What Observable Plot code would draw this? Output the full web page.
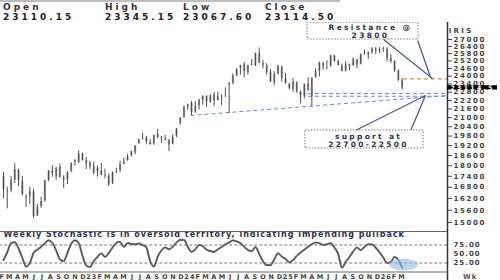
<!DOCTYPE html>
<html><head><meta charset="utf-8">
<script src="https://cdn.jsdelivr.net/npm/d3@7"></script>
<script src="https://cdn.jsdelivr.net/npm/@observablehq/plot@0.6"></script>
<style>
body{margin:0;background:#fff;width:500px;height:280px;overflow:hidden;position:relative;font-family:"DejaVu Sans",sans-serif}
#hdr{position:absolute;left:0;top:0;width:340px;height:21px;border-top:2px solid #bdbdbd}
.h{position:absolute;font-weight:bold;font-size:9px;letter-spacing:3px;color:#333;white-space:nowrap}
#main{position:absolute;left:0;top:22px}
#stoch{position:absolute;left:0;top:231px}
#sepTop{position:absolute;left:0;top:231px;width:447px;height:0;border-top:1px solid #666}
#main g[aria-label="y-axis tick label"] text{letter-spacing:1.6px}
#main g[aria-label="text"] text{letter-spacing:2.3px}
#stoch text{letter-spacing:1px}
</style></head><body>
<div id="hdr"></div>
<div id="main"></div>
<div id="stoch"></div>
<div id="sepTop"></div>
<script>
// ---------- header ----------
const ohlcLabels = ["Open", "High", "Low", "Close"];
const ohlcValues = ["23110.15", "23345.15", "23067.60", "23114.50"];
// ---------- bi-weekly bars (start 2022-02-14, every 2 weeks) ----------
const firstBar = "2022-02-14";
const opens = [17374,16600,16630,17200,17700,17100,16300,16300,16550,15300,15800,16100,17200,17700,17400,17900,17200,17200,17700,18200,18200,18700,18300,
 18130,17950,17650,17700,17450,17400,17000,17600,17700,18100,18300,18600,18800,19300,19600,19700,19400,19300,19900,19700,19600,19500,19300,19800,20600,21000,
 21727,22000,21400,21800,22200,22500,22100,22578,22200,22500,22500,23338,23500,24000,24600,24900,24300,24900,24800,25800,25000,24800,24300,23500,24150,24700,23800,
 23400,23000,23500,22800,22500,23400,22500,23900,24400,25000,24700,24800,25600,25150,24800,24400,24900,24800,25300,24900,25800,25700,25900,26200,26050,26150,
 26200,25400,25150,24400,23700];
const highs = [17640,16800,17400,18114,17800,17400,16400,16794,16700,15900,16275,17172,17724,17992,17925,18096,17428,17665,18176,18362,18888,18750,18500,
 18265,18201,17972,18135,17800,17529,17638,17863,18267,18458,18662,18864,19201,19595,19991,19795,19584,19867,20222,19766,19850,19593,19875,20291,21006,21801,
 21928,22124,22126,22297,22526,22526,22619,22776,22794,22600,23110,23490,24174,24592,24855,25078,24867,25333,25849,26277,25234,24978,24537,24354,24857,24781,24226,
 23426,23807,23568,22900,23402,23869,23872,24589,25116,25079,25222,25654,25669,25250,24956,25153,24950,25448,25331,25781,26104,25940,26310,26325,26300,26350,
 26300,25700,25200,24500,23800];
const lows = [16203,15671,16500,17000,16824,16340,15735,15900,15183,15300,15700,16000,17100,17345,17166,17292,16747,16950,17600,17970,18133,18300,17774,
 17774,17493,17353,17421,17256,16828,16940,17553,17612,18060,18262,18500,18647,19300,19563,19296,19229,19223,19657,19333,19480,18837,19257,19700,20500,20977,
 21500,21137,21300,21530,21860,21710,22000,21777,22150,21821,22417,21281,23350,23992,24074,23894,24100,24800,24753,24966,24567,24073,23532,23263,24100,23537,23400,
 22976,22787,22725,21964,22314,22857,21743,23847,23935,24462,24473,24700,25100,24806,24338,24337,24404,24770,24588,24900,25700,25318,25740,25728,25800,25900,
 25100,25000,24300,23600,22950];
const closes = [16658,16630,17153,17784,17172,16411,16266,16584,15293,15752,16049,17158,17698,17559,17833,17327,17315,17576,18117,18307,18696,18269,18105,
 17956,17604,17856,17465,17413,16945,17599,17624,18069,18203,18534,18826,19189,19564,19646,19428,19265,19819,19674,19653,19542,19230,19732,20268,20969,21731,
 21894,21352,21783,22213,22493,22097,22514,22147,22476,22466,22531,23465,24011,24502,24835,24367,24823,24852,25791,25014,24854,24304,23532,24131,24768,23813,23432,
 23092,23560,22796,22552,23350,22904,23851,24346,25019,24750,24718,25637,25149,24837,24363,24870,24741,25327,24894,25710,25722,25910,26203,26047,26150,26200,
 25400,25150,24400,23700,23114.5];
// weekly stochastic (one reading per bar)
const stochValues = [33,55,80,83,65,40,15,25,53,62,70,80,88,80,60,35,30,53,78,88,80,45,18,14,30,42,52,42,53,68,81,84,70,80,78,77,79,75,68,30,15,42,60,68,63,70,82,89,89,70,56,63,75,72,62,58,56,63,69,77,82,88,85,80,70,61,58,69,50,30,19,19,35,52,43,36,27,33,45,54,62,70,77,82,80,75,77,80,68,50,12,28,42,57,68,61,70,77,77,67,55,40,25,28,42,33,12];
// ---------- axis ticks ----------
const priceTicks = [27000,26400,25800,25200,24600,24000,23400,22800,22200,21600,21000,20400,19800,19200,18600,18000,17400,16800,16200,15600,15000];
const stochTicks = [75, 50, 25];
const monthLetters = ["J","F","M","A","M","J","J","A","S","O","N","D"];
// ---------- annotations ----------
const resistanceLevel = 23800;
const supportLevels = [22700, 22500];
const lastClose = 23114.50;
const resistanceText = ["Resistance @", "23800"];
const supportText = ["support at", "22700-22500"];
const stochTitle = "Weekly Stochastic is in oversold territory, indicating impending pullback";
const D = s => new Date(s + "T00:00:00Z");
const xStart = D("2022-01-01"), xEnd = D("2026-09-01");
const resBox = {x1: D("2025-03-29"), x2: D("2026-05-16"), y1: 28500, y2: 27000};
const resLabelPos = {x: D("2025-11-18"), y: [28090, 27320]};
const resPointers = [
  {x1: D("2026-01-06"), y1: 27000, x2: D("2026-07-08"), y2: 23800},
  {x1: D("2026-05-13"), y1: 26913, x2: D("2026-06-30"), y2: 23900}];
const resLineFrom = D("2026-03-21");
const supLineFrom = D("2025-04-01");
const trendLine = {x1: D("2024-01-18"), y1: 21152, x2: xEnd, y2: 22556};
const supBox = {x1: D("2025-03-21"), x2: D("2026-06-04"), y1: 20156, y2: 19025};
const supLabelPos = {x: D("2025-11-11"), y: [19790, 19240]};
const supPointers = [
  {x1: D("2025-09-23"), y1: 20156, x2: D("2026-06-11"), y2: 22556},
  {x1: D("2026-04-17"), y1: 20156, x2: D("2026-06-11"), y2: 22556}];
const ovalPos = {x: D("2026-03-21"), y: 21};

// ---------- header ----------
const hdr = document.getElementById("hdr");
const hx = [3, 105, 183, 265];
ohlcLabels.forEach((t, i) => {
  const a = document.createElement("div"); a.className = "h"; a.textContent = t;
  a.style.left = hx[i] + "px"; a.style.top = "0px"; hdr.appendChild(a);
  const b = document.createElement("div"); b.className = "h"; b.textContent = ohlcValues[i];
  b.style.left = hx[i] + "px"; b.style.top = "10px"; b.style.color = "#222"; hdr.appendChild(b);
});

// ---------- data ----------
const t0 = D(firstBar);
const bars = opens.map((o, i) => ({date: d3.utcDay.offset(t0, 14 * i + 7), o, h: highs[i], l: lows[i], c: closes[i], s: stochValues[i]}));
const xOpt = {type: "utc", domain: [xStart, xEnd], range: [-10.7, 447], axis: null};
const navy = "#2a3352", pointer = "#4a5f88", blue = "#5b8fd6";

const main = Plot.plot({
  width: 500, height: 209, margin: 0, marginRight: 53,
  style: {fontFamily: "DejaVu Sans", background: "transparent"},
  x: xOpt,
  y: {type: "log", domain: [15000, 27000], range: [200, 17], axis: null},
  marks: [
    Plot.link([trendLine], {x1: "x1", y1: "y1", x2: "x2", y2: "y2", stroke: blue, strokeWidth: 1, strokeDasharray: "4,3"}),
    Plot.ruleY(supportLevels, {x1: supLineFrom, x2: xEnd, stroke: blue, strokeWidth: 1, strokeDasharray: "4,3"}),
    Plot.ruleY([resistanceLevel], {x1: resLineFrom, x2: xEnd, stroke: "#ee8a3c", strokeWidth: 1.2, strokeDasharray: "4,3"}),
    Plot.ruleX(bars, {x: "date", y1: "o", y2: "c", stroke: "#a9a9a9", strokeWidth: 2.2}),
    Plot.ruleX(bars, {x: "date", y1: "l", y2: "h", stroke: "#3a3a3a", strokeWidth: 0.9}),
    Plot.link(resPointers, {x1: "x1", y1: "y1", x2: "x2", y2: "y2", stroke: pointer, strokeWidth: 1.3}),
    Plot.link(supPointers, {x1: "x1", y1: "y1", x2: "x2", y2: "y2", stroke: pointer, strokeWidth: 1.3}),
    Plot.rect([resBox], {x1: "x1", x2: "x2", y1: "y1", y2: "y2", fill: "white", stroke: "#777", strokeDasharray: "1.5,1.5"}),
    Plot.rect([supBox], {x1: "x1", x2: "x2", y1: "y1", y2: "y2", fill: "white", stroke: "#777", strokeDasharray: "1.5,1.5"}),
    Plot.text(resistanceText, {x: resLabelPos.x, y: (d, i) => resLabelPos.y[i], text: d => d, fill: navy, fontSize: 7.5, fontWeight: "bold"}),
    Plot.text(supportText, {x: supLabelPos.x, y: (d, i) => supLabelPos.y[i], text: d => d, fill: navy, fontSize: 7.5, fontWeight: "bold"}),
    Plot.ruleX([xEnd], {stroke: "#333", strokeWidth: 1.5}),
    Plot.axisY(priceTicks, {anchor: "right", tickSize: 4, tickPadding: 2, tickFormat: d => String(d), fontSize: 7, fontWeight: "bold", fill: "#444", stroke: "#444"}),
    Plot.rect([lastClose], {x1: xEnd, x2: xEnd, y1: d => d * 1.007, y2: d => d / 1.007, insetRight: -50, fill: "black"}),
    Plot.text([lastClose], {x: xEnd, y: d => d, dx: 3, text: d => d.toFixed(1), textAnchor: "start", fill: "white", fontSize: 6.2, fontWeight: "bold"}),
    Plot.text(["IRIS"], {frameAnchor: "top-right", dx: 26, dy: 6, text: d => d, fontSize: 7, fontWeight: "bold", fill: "#444"})
  ]
});
document.getElementById("main").appendChild(main);

const months = d3.utcMonth.range(D("2022-02-01"), D("2026-04-01"));
const stoch = Plot.plot({
  width: 500, height: 49, margin: 0, marginRight: 53,
  style: {fontFamily: "DejaVu Sans", background: "transparent"},
  x: xOpt,
  y: {domain: [0, 100], range: [40.5, 4.5], axis: null},
  marks: [
    Plot.ruleY([0], {x1: xStart, x2: xEnd, stroke: "#666", strokeWidth: 1}),
    Plot.ruleY([75, 25], {x1: xStart, x2: xEnd, stroke: "#555", strokeWidth: 0.8, strokeDasharray: "3,2"}),
    Plot.line(bars, {x: "date", y: "s", stroke: "#8a8a8a", strokeWidth: 2.2, curve: "monotone-x"}),
    Plot.line(bars, {x: "date", y: "s", stroke: "#333", strokeWidth: 0.8, curve: "monotone-x"}),
    Plot.dot([ovalPos], {x: "x", y: "y", r: 6, fill: "#8fbbe6", fillOpacity: 0.6}),
    Plot.text([stochTitle], {frameAnchor: "top-left", dx: 3, dy: 0, text: d => d, fill: navy, fontSize: 8, fontWeight: "bold", textAnchor: "start"}),
    Plot.ruleX([xEnd], {stroke: "#333", strokeWidth: 1.5}),
    Plot.axisY(stochTicks, {anchor: "right", tickSize: 0, tickPadding: 6, tickFormat: d => d.toFixed(2), fontSize: 7, fontWeight: "bold", fill: "#444"}),
    Plot.text(months, {x: d => d, frameAnchor: "bottom", dy: -2, dx: 4, text: d => d.getUTCMonth() === 0 ? String(d.getUTCFullYear()).slice(2) : monthLetters[d.getUTCMonth()], fontSize: 6.5, fontWeight: "bold", fill: "#444"}),
    Plot.text(["Wk"], {frameAnchor: "bottom-right", dx: 30, dy: -2, text: d => d, fontSize: 7, fontWeight: "bold", fill: "#555"})
  ]
});
document.getElementById("stoch").appendChild(stoch);
// stretch the highlight dot into an oval
d3.select(stoch).selectAll('g[aria-label="dot"] circle').each(function () {
  const c = d3.select(this); const cx = +c.attr("cx"), cy = +c.attr("cy");
  c.attr("transform", `translate(${cx},${cy}) scale(2.4,1) translate(${-cx},${-cy})`);
});
</script>
</body></html>
